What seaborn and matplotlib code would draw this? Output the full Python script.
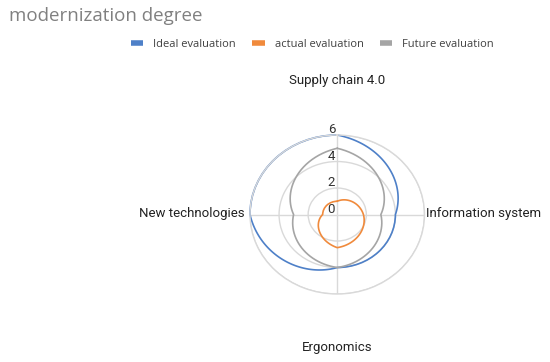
import matplotlib.pyplot as plt
import numpy as np
import pandas as pd
import seaborn as sns
from matplotlib.lines import Line2D
from matplotlib.transforms import offset_copy

# data
axis_names = ["Supply chain 4.0", "Information system", "Ergonomics", "New technologies"]
series_names = ["Ideal evaluation", "actual evaluation", "Future evaluation"]
ideal = [6, 4, 4, 6]
actual = [1, 1.8, 2.5, 1]
future = [5, 3, 4, 3]
r_ticks = [0, 2, 4, 6]
colors = ["#4e80c8", "#f08a3c", "#a5a5a5"]

sns.set_theme(style="white")
plt.rcParams["font.family"] = ["Roboto", "DejaVu Sans"]

# clockwise from the top, using negative angles (theta direction stays +1)
n = len(axis_names)
angles = [-2 * np.pi * i / n for i in range(n)]
rows = []
for name, vals in zip(series_names, [ideal, actual, future]):
    # close the loop back to the first axis
    for a, v in zip(angles + [-2 * np.pi], vals + vals[:1]):
        rows.append({"angle": a, "value": v, "series": name})
df = pd.DataFrame(rows)

fig = plt.figure(figsize=(5.5, 3.62), dpi=100)
ax = fig.add_axes([0.4545, 0.1878, 0.3173, 0.4392], projection="polar")
ax.set_aspect("auto")
ax.set_theta_offset(np.pi / 2)

sns.lineplot(data=df, x="angle", y="value", hue="series", hue_order=series_names,
             palette=colors, ax=ax, legend=False, linewidth=1.2, sort=False)
# let the polar transform bend the segments into arcs / spirals
for line in ax.lines:
    line.get_path()._interpolation_steps = 80
    line.set_clip_on(False)

ax.set_xlim(0, 2 * np.pi)
ax.set_ylim(0, 6)
ax.set_xticks([np.pi / 2 * k for k in range(4)])
ax.set_xticklabels([])
ax.set_yticks(r_ticks)
ax.set_yticklabels([])
ax.set_xlabel("")
ax.set_ylabel("")
ax.grid(True, color="#d9d9d9", linewidth=1.0)
ax.spines["polar"].set_color("#d9d9d9")
ax.spines["polar"].set_linewidth(1.0)

lab_tr = offset_copy(ax.transData, fig=fig, x=-2, y=2, units="dots")
for v in r_ticks:
    ax.text(0, v, str(v), transform=lab_tr, ha="right", va="baseline",
            fontsize=9.5, color="#333333")

# axis names
fig.text(0.6127, 0.779, axis_names[0], ha="center", va="center", fontsize=9.5, color="#222222")
fig.text(0.7745, 0.409, axis_names[1], ha="left", va="center", fontsize=9.5, color="#222222")
fig.text(0.6127, 0.041, axis_names[2], ha="center", va="center", fontsize=9.5, color="#222222")
fig.text(0.4455, 0.409, axis_names[3], ha="right", va="center", fontsize=9.5, color="#222222")

fig.text(0.016, 0.957, "modernization degree", ha="left", va="center", fontsize=13.5,
         color="#808080", family="Open Sans")

handles = [Line2D([], [], color=c, lw=4, solid_capstyle="butt") for c in colors]
fig.legend(handles, series_names, loc="center", bbox_to_anchor=(0.568, 0.878), ncol=3,
           frameon=False, prop={"family": "Open Sans", "size": 8}, labelcolor="#404040",
           handlelength=1.1, handletextpad=0.9, columnspacing=1.5)

fig.savefig("out.png", dpi=100, facecolor="white")
